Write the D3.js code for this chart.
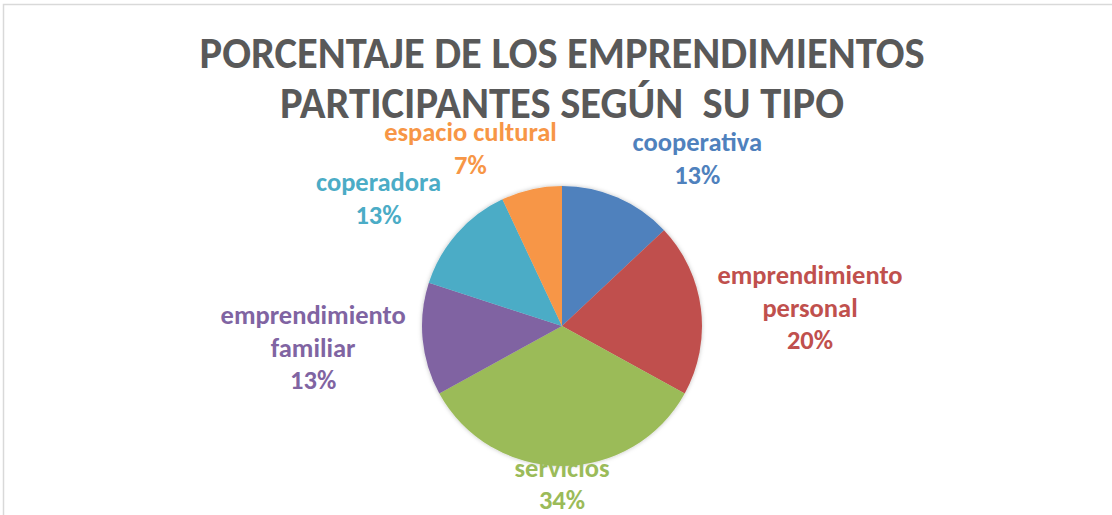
<!DOCTYPE html>
<html>
<head>
<meta charset="utf-8">
<script src="https://cdn.jsdelivr.net/npm/d3@7"></script>
<style>
  body { margin: 0; background: #fff; }
  svg { display: block; }
</style>
</head>
<body>
<svg></svg>
<script>
let categories = ['cooperativa', 'emprendimiento personal', 'servicios', 'emprendimiento familiar', 'coperadora', 'espacio cultural']
let values = [13, 20, 34, 13, 13, 7]
let labelLines = [['cooperativa'], ['emprendimiento', 'personal'], ['servicios'], ['emprendimiento', 'familiar'], ['coperadora'], ['espacio cultural']]
let titleLines = ['PORCENTAJE DE LOS EMPRENDIMIENTOS', 'PARTICIPANTES SEGÚN\u00a0 SU TIPO']
let colors = ['#4f81bd', '#c0504d', '#9bbb59', '#8064a2', '#4bacc6', '#f79646']

let width = 1112
let height = 515
let cx = 562
let cy = 326
let radius = 140
let font = "Carlito, 'Liberation Sans Narrow', Lato, 'Open Sans', sans-serif"

// label placement: ellipse around the pie, plus small nudges like Excel's best fit
let labelRx = 250
let labelRy = 178
let labelNudge = [[36, -4], [0, 4], [0, -20], [0, 5], [4, -10], [-37, -4]]

let svg = d3.select('svg')

let drawCanvas = () => {
    svg.attr('width', width)
    svg.attr('height', height)
    svg.append('rect')
        .attr('x', 3.5)
        .attr('y', 4.5)
        .attr('width', width + 10)
        .attr('height', height + 10)
        .attr('fill', '#fff')
        .attr('stroke', '#d9d9d9')
        .attr('stroke-width', 1.5)

    let defs = svg.append('defs')
    let f = defs.append('filter').attr('id', 'shadow')
        .attr('x', '-10%').attr('y', '-10%').attr('width', '120%').attr('height', '120%')
    f.append('feDropShadow')
        .attr('dx', 0).attr('dy', 0).attr('stdDeviation', 2)
        .attr('flood-color', '#000').attr('flood-opacity', 0.25)
}

let drawTitle = () => {
    let widths = [725, 564]
    svg.append('g').selectAll('text')
        .data(titleLines)
        .join('text')
        .attr('x', cx)
        .attr('y', (d, i) => 68 + i * 50)
        .attr('text-anchor', 'middle')
        .attr('font-family', font)
        .attr('font-weight', 'bold')
        .attr('font-size', 44)
        .attr('fill', '#595959')
        .attr('textLength', (d, i) => widths[i])
        .attr('lengthAdjust', 'spacingAndGlyphs')
        .text(d => d)
}

let drawPie = () => {
    let pie = d3.pie().sort(null).value(d => d)
    let arcs = pie(values)
    let arc = d3.arc().innerRadius(0).outerRadius(radius)
    let total = d3.sum(values)
    let pct = d3.format('.0%')

    let g = svg.append('g').attr('transform', 'translate(' + cx + ',' + cy + ')')

    g.append('g')
        .attr('filter', 'url(#shadow)')
        .selectAll('path')
        .data(arcs)
        .join('path')
        .attr('d', arc)
        .attr('fill', (d, i) => colors[i])

    let lineH = 32.5
    arcs.forEach((a, i) => {
        let mid = (a.startAngle + a.endAngle) / 2
        let x = labelRx * Math.sin(mid) + labelNudge[i][0]
        let y = -labelRy * Math.cos(mid) + labelNudge[i][1]
        let lines = labelLines[i].concat([pct(values[i] / total)])
        let top = y - (lines.length * lineH) / 2
        let t = g.append('text')
            .attr('text-anchor', 'middle')
            .attr('font-family', font)
            .attr('font-weight', 'bold')
            .attr('font-size', 26.5)
            .attr('fill', colors[i])
        lines.forEach((l, j) => {
            t.append('tspan')
                .attr('x', x)
                .attr('y', top + (j + 0.5) * lineH + 9)
                .text(l)
        })
    })
}

drawCanvas()
drawTitle()
drawPie()
</script>
</body>
</html>
